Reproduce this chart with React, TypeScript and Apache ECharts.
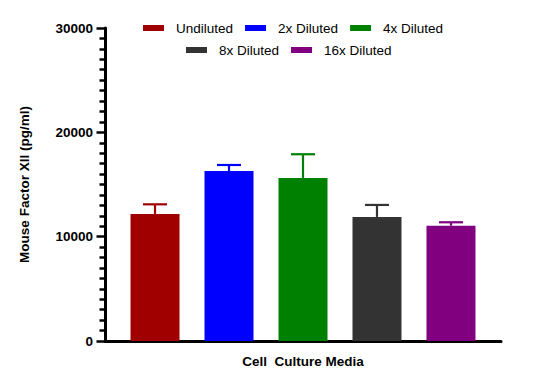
import React, { useEffect, useRef } from "react";
import * as echarts from "echarts";

const categories = ["Cell  Culture Media"];
const seriesNames = ["Undiluted", "2x Diluted", "4x Diluted", "8x Diluted", "16x Diluted"];
const means = [12180, 16300, 15630, 11890, 11050];
const errors = [920, 570, 2270, 1150, 330];
const colors = ["#A00000", "#0000FF", "#008000", "#333333", "#800080"];
const yMin = 0;
const yMax = 30000;
const yInterval = 10000;

const BAR_W = 49;
const BAR_GAP = 0.51;
const CAP_W = 24;

export default function App() {
  const ref = useRef<HTMLDivElement>(null);
  useEffect(() => {
    if (!ref.current) return;
    const chart = echarts.init(ref.current, undefined, { renderer: "svg" });
    const n = seriesNames.length;
    const barSeries = seriesNames.map((name, i) => ({
      name,
      type: "bar",
      data: [means[i]],
      barWidth: BAR_W,
      barGap: `${BAR_GAP * 100}%`,
      itemStyle: { color: colors[i] },
      emphasis: { disabled: true },
    }));
    const errData = means.map((m, i) => [0, m, errors[i], i]);
    const errSeries = {
      name: "error",
      type: "custom",
      data: errData,
      z: 3,
      renderItem: (params: any, api: any) => {
        const idx = api.value(3);
        const base = api.coord([api.value(0), api.value(1)]);
        const top = api.coord([api.value(0), api.value(1) + api.value(2)]);
        const x = base[0] + (idx - (n - 1) / 2) * (BAR_W * (1 + BAR_GAP));
        const stroke = colors[idx];
        return {
          type: "group",
          children: [
            { type: "line", shape: { x1: x, y1: base[1], x2: x, y2: top[1] }, style: { stroke, lineWidth: 2.2 } },
            { type: "line", shape: { x1: x - CAP_W / 2, y1: top[1], x2: x + CAP_W / 2, y2: top[1] }, style: { stroke, lineWidth: 2.2 } },
          ],
        };
      },
    };
    const boldText = {
      fontFamily: "Liberation Sans, Arial, sans-serif",
      fontWeight: "bold",
      fontSize: 13.5,
      color: "#000",
    };
    const legendText = { fontFamily: "Liberation Sans, Arial, sans-serif", fontSize: 13.5, color: "#000", padding: [0, 0, 0, 7], lineHeight: 16 };
    chart.setOption({
      animation: false,
      grid: { left: 105, right: 44, top: 28, bottom: 46, containLabel: false },
      legend: [
        {
          data: seriesNames.slice(0, 3),
          left: 143,
          top: 20,
          padding: 0,
          itemWidth: 21,
          itemHeight: 6,
          itemGap: 12,
          icon: "rect",
          textStyle: legendText,
          selectedMode: false,
        },
        {
          data: seriesNames.slice(3),
          left: 186,
          top: 42,
          padding: 0,
          itemWidth: 21,
          itemHeight: 6,
          itemGap: 12,
          icon: "rect",
          textStyle: legendText,
          selectedMode: false,
        },
      ],
      xAxis: {
        type: "category",
        data: categories,
        axisLine: { lineStyle: { color: "#000", width: 3 } },
        axisTick: { alignWithLabel: true, length: 8, lineStyle: { color: "#000", width: 3 } },
        axisLabel: { margin: 13, ...boldText },
        splitLine: { show: false },
      },
      yAxis: {
        type: "value",
        min: yMin,
        max: yMax,
        interval: yInterval,
        name: "Mouse Factor XII (pg/ml)",
        nameLocation: "middle",
        nameGap: 74,
        nameTextStyle: { ...boldText, padding: [0, 0, 0, 0] },
        axisLine: { show: true, lineStyle: { color: "#000", width: 3 } },
        axisTick: { show: true, length: 8.5, lineStyle: { color: "#000", width: 2.5 } },
        minorTick: { show: true, splitNumber: 10, length: 5.5, lineStyle: { color: "#000", width: 2.5 } },
        axisLabel: { margin: 12, formatter: (v: number) => String(v), ...boldText },
        splitLine: { show: false },
      },
      series: [...barSeries, errSeries],
    });
    return () => chart.dispose();
  }, []);
  return <div ref={ref} style={{ position: "absolute", left: 0, top: 0, width: 545, height: 387, background: "#fff" }} />;
}
